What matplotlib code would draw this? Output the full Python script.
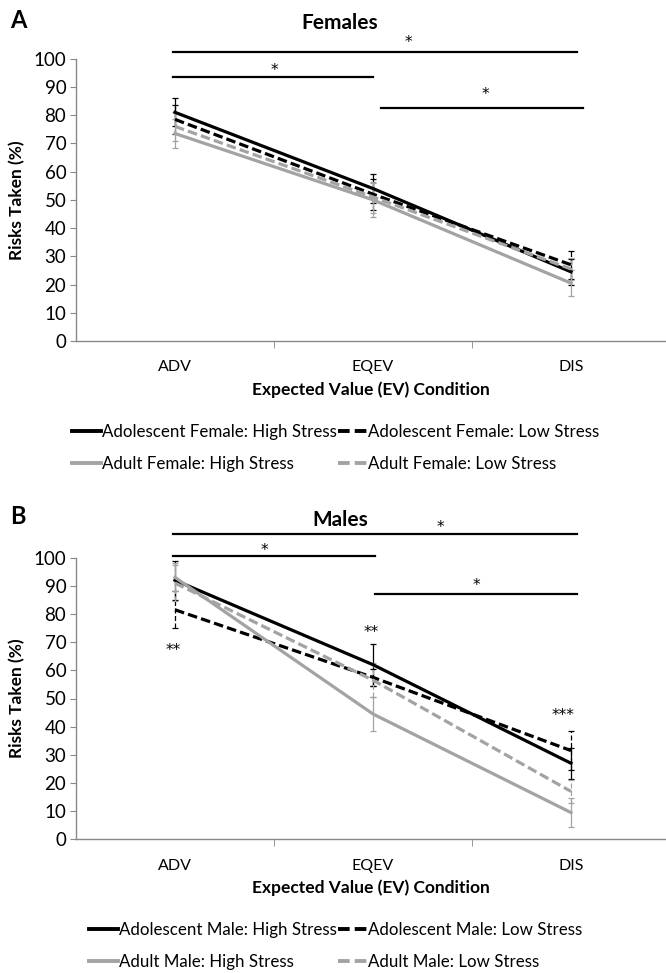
import matplotlib
matplotlib.use('Agg')
import matplotlib.pyplot as plt
import matplotlib.transforms as mtransforms
from matplotlib.lines import Line2D

plt.rcParams['font.family'] = ['Lato', 'DejaVu Sans']

conditions = ['ADV', 'EQEV', 'DIS']

# females
f_adol_high = [81, 54, 24.5]
f_adol_high_err = [5, 5, 4.5]
f_adol_low = [78.5, 52, 27]
f_adol_low_err = [5, 5.5, 5]
f_adult_high = [73.5, 50, 20.5]
f_adult_high_err = [5, 6, 4.5]
f_adult_low = [76, 51, 25.5]
f_adult_low_err = [5, 5.5, 4]

# males
m_adol_high = [92, 62, 27]
m_adol_high_err = [7, 7.4, 5.5]
m_adol_low = [81.5, 57.5, 31.5]
m_adol_low_err = [6.5, 3, 7]
m_adult_high = [93, 44.5, 9.5]
m_adult_high_err = [5, 6, 5]
m_adult_low = [91, 56.5, 17]
m_adult_low_err = [6.5, 6, 4]

BLACK = '#000000'
GRAY = '#a3a3a3'
DASH = (0, (3, 1.3))
W, H = 666, 973


def draw_panel(ax, series, sig_lines, sig_stars, extra_marks, title, letter, title_y, letter_y):
    x = list(range(len(conditions)))
    handles, labels = [], []
    for vals, errs, color, dashed, label in series:
        ls = DASH if dashed else '-'
        eb = ax.errorbar(x, vals, yerr=errs, color=color, lw=2.3, ls=ls,
                         elinewidth=0.9, capsize=2.5, capthick=0.9,
                         ecolor=color)
        if dashed:
            eb[2][0].set_linestyle((0, (4, 2)))
        handles.append(Line2D([], [], color=color, lw=2.8, ls=ls))
        labels.append(label)
    ax.set_xlim(-0.5, -0.5 + 590 / 198)
    ax.set_ylim(0, 100)
    ax.set_yticks(range(0, 101, 10))
    ax.set_xticks(x)
    ax.set_xticklabels(conditions, fontsize=11.5)
    ax.set_xticks([0.5, 1.5], minor=True)
    ax.tick_params(axis='x', which='major', length=0, pad=14)
    ax.tick_params(axis='x', which='minor', length=5, color='#888888', direction='out')
    ax.tick_params(axis='y', length=4, color='#888888', labelsize=13.5, pad=3)
    for s in ['top', 'right']:
        ax.spines[s].set_visible(False)
    for s in ['left', 'bottom']:
        ax.spines[s].set_color('#888888')
        ax.spines[s].set_linewidth(1)
    ax.set_ylabel('Risks Taken (%)', fontsize=12.5, fontweight='bold', labelpad=6)
    ax.set_xlabel('Expected Value (EV) Condition', fontsize=12.5, fontweight='bold', labelpad=5)

    for x0, x1, y in sig_lines:
        ax.plot([x0, x1], [y, y], color=BLACK, lw=1.6, clip_on=False)
    # asterisk glyph sits high in the text box, so shift the baseline down
    star_tr = mtransforms.offset_copy(ax.transData, fig=fig, y=-6.5, units='points')
    for xs, ys, txt in sig_stars + extra_marks:
        ax.text(xs, ys, txt, ha='center', va='baseline', fontsize=11,
                family='DejaVu Sans', transform=star_tr, clip_on=False)

    fig.text(340 / W, 1 - title_y / H, title, ha='center', va='center',
             fontsize=15, fontweight='bold')
    fig.text(10 / W, 1 - letter_y / H, letter, ha='left', va='center',
             fontsize=17, fontweight='bold')
    return handles, labels


fig = plt.figure(figsize=(W / 100, H / 100), dpi=100)
ax1 = fig.add_axes([76 / W, 1 - 341 / H, 590 / W, 282.3 / H])
ax2 = fig.add_axes([76 / W, 1 - 839.3 / H, 590 / W, 281.6 / H])

leg1 = draw_panel(
    ax1,
    [(f_adol_high, f_adol_high_err, BLACK, False, 'Adolescent Female: High Stress'),
     (f_adol_low, f_adol_low_err, BLACK, True, 'Adolescent Female: Low Stress'),
     (f_adult_high, f_adult_high_err, GRAY, False, 'Adult Female: High Stress'),
     (f_adult_low, f_adult_low_err, GRAY, True, 'Adult Female: Low Stress')],
    [(-0.01, 2.03, 102.3), (-0.01, 1.0, 93.4), (1.04, 2.06, 82.6)],
    [(1.18, 107.5, '*'), (0.5, 97.6, '*'), (1.57, 88.9, '*')],
    [],
    'Females', 'A', 22.7, 20)

leg2 = draw_panel(
    ax2,
    [(m_adol_high, m_adol_high_err, BLACK, False, 'Adolescent Male: High Stress'),
     (m_adol_low, m_adol_low_err, BLACK, True, 'Adolescent Male: Low Stress'),
     (m_adult_high, m_adult_high_err, GRAY, False, 'Adult Male: High Stress'),
     (m_adult_low, m_adult_low_err, GRAY, True, 'Adult Male: Low Stress')],
    [(-0.01, 2.03, 108.4), (-0.01, 1.01, 100.6), (1.01, 2.03, 87.2)],
    [(1.34, 112.2, '*'), (0.45, 104.0, '*'), (1.52, 91.9, '*')],
    [(-0.01, 68.7, '**'), (0.99, 74.9, '**'), (1.96, 45.7, '***')],
    'Males', 'B', 520, 516.7)

for (handles, labels), xleft, ytop in [(leg1, 72, 424), (leg2, 89, 922)]:
    idx = [0, 2, 1, 3]
    fig.legend([handles[i] for i in idx], [labels[i] for i in idx], ncol=2,
               loc='upper left', bbox_to_anchor=(xleft / W, 1 - ytop / H),
               frameon=False, fontsize=12.2, handlelength=1.7, handletextpad=0.05,
               columnspacing=0.1, borderpad=0, borderaxespad=0, labelspacing=0.95)

fig.savefig('out.png', dpi=100)
